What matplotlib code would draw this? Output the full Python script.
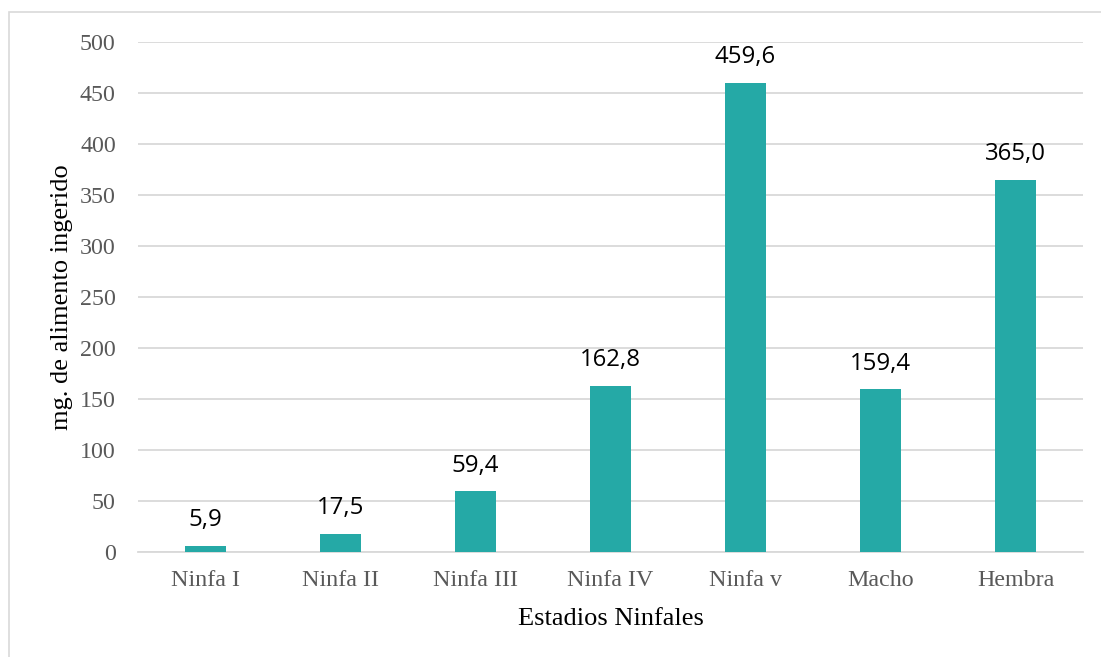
import matplotlib.pyplot as plt
from matplotlib.patches import Rectangle

# consumo de alimento por estadio
estadios = ["Ninfa I", "Ninfa II", "Ninfa III", "Ninfa IV", "Ninfa v", "Macho", "Hembra"]
consumo = [5.9, 17.5, 59.4, 162.8, 459.6, 159.4, 365.0]
yticks = list(range(0, 501, 50))

teal = "#25a9a6"
serif = ["Liberation Serif", "DejaVu Serif"]

fig = plt.figure(figsize=(11.01, 6.57), dpi=100)
ax = fig.add_axes([138 / 1101, 1 - 552 / 657, 945 / 1101, 510 / 657])

x = range(len(estadios))
bars = ax.bar(x, consumo, width=0.31, color=teal, zorder=3)
for b, v in zip(bars, consumo):
    ax.annotate(f"{v:.1f}".replace(".", ","), (b.get_x() + b.get_width() / 2, v),
                xytext=(0, 10), textcoords="offset points", ha="center", va="bottom",
                fontsize=17.3, family=["Open Sans", "DejaVu Sans"], color="black")

ax.set_xlim(-0.5, len(estadios) - 0.5)
ax.set_ylim(0, 500)
ax.set_yticks(yticks)
ax.set_xticks(list(x))
ax.set_xticklabels(estadios)
ax.grid(axis="y", color="#d9d9d9", linewidth=1.3, zorder=0)
ax.tick_params(length=0, labelsize=17.3, labelcolor="#595959", pad=13)
ax.tick_params(axis="y", pad=16)
for lbl in ax.get_xticklabels() + ax.get_yticklabels():
    lbl.set_family(serif)
for s in ["top", "right", "left"]:
    ax.spines[s].set_visible(False)
ax.spines["bottom"].set_color("#d9d9d9")
ax.spines["bottom"].set_linewidth(1.3)

ax.set_xlabel("Estadios Ninfales", fontsize=19, family=serif, labelpad=12)
ax.set_ylabel("mg. de alimento ingerido", fontsize=19, family=serif, labelpad=5)

# marco del gráfico
fig.patches.append(Rectangle((9 / 1101, -0.1), 1.2, 1 - 12 / 657 + 0.1, transform=fig.transFigure,
                             fill=False, edgecolor="#d9d9d9", linewidth=1.2))

fig.savefig("out.png", dpi=100)
